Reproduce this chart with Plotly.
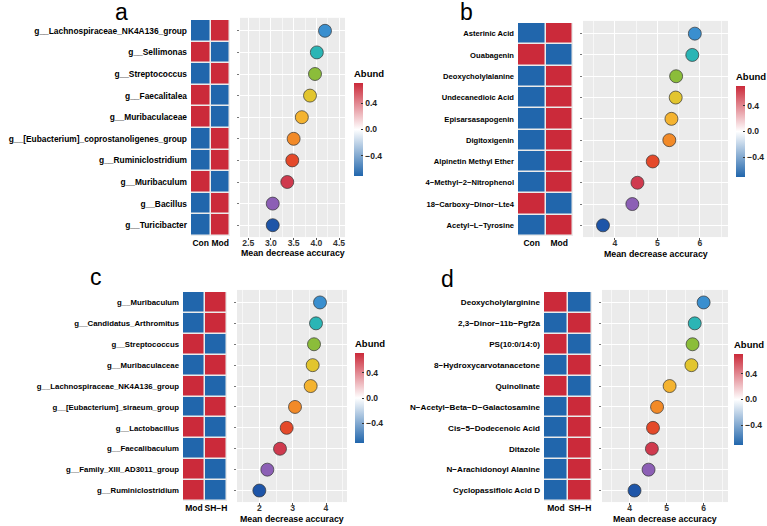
import plotly.graph_objects as go

W, H = 767, 526

# ---------------- data ----------------
labels_a = ["g__Lachnospiraceae_NK4A136_group", "g__Sellimonas", "g__Streptococcus",
            "g__Faecalitalea", "g__Muribaculaceae", "g__[Eubacterium]_coprostanoligenes_group",
            "g__Ruminiclostridium", "g__Muribaculum", "g__Bacillus", "g__Turicibacter"]
groups_a = ["Con", "Mod"]
first_a = [-0.71, 0.71, -0.71, 0.71, 0.71, -0.71, -0.71, 0.71, -0.71, -0.71]
mda_a = [4.19, 4.01, 3.97, 3.86, 3.68, 3.50, 3.47, 3.36, 3.04, 3.04]

labels_b = ["Asterinic Acid", "Ouabagenin", "Deoxycholylalanine", "Undecanedioic Acid",
            "Episarsasapogenin", "Digitoxigenin", "Alpinetin Methyl Ether",
            "4\u2212Methyl\u22122\u2212Nitrophenol", "18\u2212Carboxy\u2212Dinor\u2212Lte4",
            "Acetyl\u2212L\u2212Tyrosine"]
groups_b = ["Con", "Mod"]
first_b = [-0.71, 0.71, -0.71, -0.71, -0.71, -0.71, -0.71, -0.71, 0.71, -0.71]
mda_b = [5.88, 5.82, 5.44, 5.43, 5.33, 5.28, 4.89, 4.53, 4.41, 3.72]

labels_c = ["g__Muribaculum", "g__Candidatus_Arthromitus", "g__Streptococcus",
            "g__Muribaculaceae", "g__Lachnospiraceae_NK4A136_group", "g__[Eubacterium]_siraeum_group",
            "g__Lactobacillus", "g__Faecalibaculum", "g__Family_XIII_AD3011_group",
            "g__Ruminiclostridium"]
groups_c = ["Mod", "SH\u2212H"]
first_c = [-0.71, -0.71, 0.71, -0.71, 0.71, -0.71, 0.71, -0.71, 0.71, 0.71]
mda_c = [3.82, 3.70, 3.64, 3.60, 3.54, 3.07, 2.82, 2.62, 2.24, 2.00]

labels_d = ["Deoxycholylarginine", "2,3\u2212Dinor\u221211b\u2212Pgf2a", "PS(10:0/14:0)",
            "8\u2212Hydroxycarvotanacetone", "Quinolinate", "N\u2212Acetyl\u2212Beta\u2212D\u2212Galactosamine",
            "Cis\u22125\u2212Dodecenoic Acid", "Ditazole", "N\u2212Arachidonoyl Alanine",
            "Cyclopassifloic Acid D"]
groups_d = ["Mod", "SH\u2212H"]
first_d = [0.71, -0.71, 0.71, -0.71, 0.71, -0.71, -0.71, -0.71, -0.71, -0.71]
mda_d = [6.00, 5.76, 5.70, 5.67, 5.08, 4.74, 4.63, 4.60, 4.51, 4.13]

dot_colors = ["#3A8FCF", "#2BB5B5", "#8BBD3A", "#E2C52E", "#F4B330",
              "#F28A28", "#E4492A", "#CF3A4E", "#8C5FB5", "#1E55A8"]

# ---------------- layout specs (pixels) ----------------
panels = [
    dict(letter="a", lab=labels_a, grp=groups_a, first=first_a, mda=mda_a, fs=8.4,
         heat=(191, 230, 20, 236), dotx=(240, 345), xr=[2.32, 4.63], ticks=[2.5, 3.0, 3.5, 4.0, 4.5],
         tickfmt="{:.1f}", minor=0.25, cb=(354, 83, 176), let=(121, 12), ty=253),
    dict(letter="b", lab=labels_b, grp=groups_b, first=first_b, mda=mda_b, fs=7.6,
         heat=(518, 573, 23, 236), dotx=(583, 728), xr=[3.25, 6.66], ticks=[4, 5, 6],
         tickfmt="{:d}", minor=0.5, cb=(736, 86, 177), let=(467, 12), ty=254),
    dict(letter="c", lab=labels_c, grp=groups_c, first=first_c, mda=mda_c, fs=7.8,
         heat=(183, 227, 292, 501), dotx=(237, 347), xr=[1.33, 4.63], ticks=[2, 3, 4],
         tickfmt="{:d}", minor=0.5, cb=(355, 353, 443), let=(96, 277), ty=519),
    dict(letter="d", lab=labels_d, grp=groups_d, first=first_d, mda=mda_d, fs=8.1,
         heat=(544, 592, 292, 501), dotx=(602, 728), xr=[3.25, 6.66], ticks=[4, 5, 6],
         tickfmt="{:d}", minor=0.5, cb=(734, 354, 445), let=(448, 279), ty=519),
]

colorscale = [[0, "#2166AC"], [0.5, "#FFFFFF"], [1, "#CB2A3A"]]
FAM = "Liberation Sans, Arial, sans-serif"

fig = go.Figure()
layout = {}
annotations = []

def px2fx(x):
    return x / W

def px2fy(y):
    return 1 - y / H

TITLE_H = 16

for i, p in enumerate(panels):
    hx = 2 * i + 1
    dx = 2 * i + 2
    n = len(p["lab"])
    ys = list(range(n, 0, -1))
    z = [[v, -v] for v in p["first"]]
    x0, x1, y0, y1 = p["heat"]
    rowh = (y1 - y0) / n
    cbx, cby0, cby1 = p["cb"]
    bold = dict(family=FAM, size=p["fs"], color="black", weight="bold")

    fig.add_trace(go.Heatmap(
        z=z, x=[0, 1], y=ys, colorscale=colorscale, zmin=-0.71, zmax=0.71,
        xgap=1.5, ygap=1.5, hoverinfo="skip",
        xaxis=f"x{hx}", yaxis=f"y{hx}",
        showscale=True,
        colorbar=dict(
            x=px2fx(cbx), xanchor="left", xref="paper",
            y=px2fy(cby1), yanchor="bottom", yref="paper",
            len=cby1 - cby0 + TITLE_H, lenmode="pixels", thickness=9, thicknessmode="pixels",
            outlinewidth=0, tickvals=[-0.4, 0.0, 0.4], ticktext=["\u22120.4", "0.0", "0.4"],
            ticks="inside", ticklen=2, tickcolor="#333333",
            tickfont=dict(family=FAM, size=8.5, color="#222222", weight="bold"),
            title=dict(text="Abund", side="top",
                       font=dict(family=FAM, size=9.5, color="black", weight="bold")),
            xpad=0, ypad=0,
        ),
    ))
    fig.add_trace(go.Scatter(
        x=p["mda"], y=ys, mode="markers",
        marker=dict(size=13, color=dot_colors, line=dict(color="#333333", width=0.7)),
        hoverinfo="skip", showlegend=False,
        xaxis=f"x{dx}", yaxis=f"y{dx}",
    ))

    # heatmap axes
    layout[f"xaxis{hx}"] = dict(
        domain=[px2fx(x0), px2fx(x1)], anchor=f"y{hx}", range=[-0.5, 1.5],
        tickvals=[0, 1], ticktext=p["grp"], tickfont=dict(bold, size=8.5), showgrid=False, zeroline=False,
        ticks="", showline=False, fixedrange=True, tickangle=0, automargin=False,
        ticklabelstandoff=0,
    )
    layout[f"yaxis{hx}"] = dict(
        domain=[px2fy(y1), px2fy(y0)], anchor=f"x{hx}", range=[0.5, n + 0.5],
        tickvals=ys, ticktext=p["lab"], tickfont=bold, showgrid=False, zeroline=False,
        ticks="", showline=False, ticklabelstandoff=3, automargin=False,
    )
    # dot axes (slightly expanded vs. heatmap, like ggplot's discrete expansion)
    dy0 = y0 - 0.1 * rowh
    dy1 = y1 + 0.05 * rowh
    layout[f"xaxis{dx}"] = dict(
        domain=[px2fx(p["dotx"][0]), px2fx(p["dotx"][1])], anchor=f"y{dx}", range=p["xr"],
        tickvals=p["ticks"], ticktext=[p["tickfmt"].format(t) for t in p["ticks"]],
        tickfont=dict(family=FAM, size=8.6, color="#333333", weight="bold"),
        showgrid=True, gridcolor="white", gridwidth=1.1, zeroline=False,
        ticks="outside", ticklen=2, tickcolor="#555555", tickangle=0, automargin=False,
        ticklabelstandoff=-4,
        minor=dict(dtick=p["minor"], tick0=0, showgrid=True, gridcolor="#F7F7F7", gridwidth=0.5, ticks=""),
    )
    layout[f"yaxis{dx}"] = dict(
        domain=[px2fy(dy1), px2fy(dy0)], anchor=f"x{dx}",
        range=[0.5 - 0.05, n + 0.6],
        tickvals=ys, showticklabels=False, showgrid=True, gridcolor="white", gridwidth=1.1,
        zeroline=False, ticks="outside", ticklen=2, tickcolor="#777777", automargin=False,
    )
    annotations.append(dict(
        x=px2fx(p["let"][0]), y=px2fy(p["let"][1]), xref="paper", yref="paper",
        text=p["letter"], showarrow=False, xanchor="center", yanchor="middle",
        font=dict(family=FAM, size=23, color="black"),
    ))
    annotations.append(dict(
        x=px2fx((p["dotx"][0] + p["dotx"][1]) / 2), y=px2fy(p["ty"]), xref="paper", yref="paper",
        text="Mean decrease accuracy", showarrow=False, xanchor="center", yanchor="middle",
        font=dict(family=FAM, size=8.8, color="black", weight="bold"),
    ))

fig.update_layout(
    width=W, height=H, margin=dict(l=0, r=0, t=0, b=0, autoexpand=False),
    paper_bgcolor="white", plot_bgcolor="#EBEBEB",
    showlegend=False, annotations=annotations, **layout,
)

fig.write_html("out.html")
